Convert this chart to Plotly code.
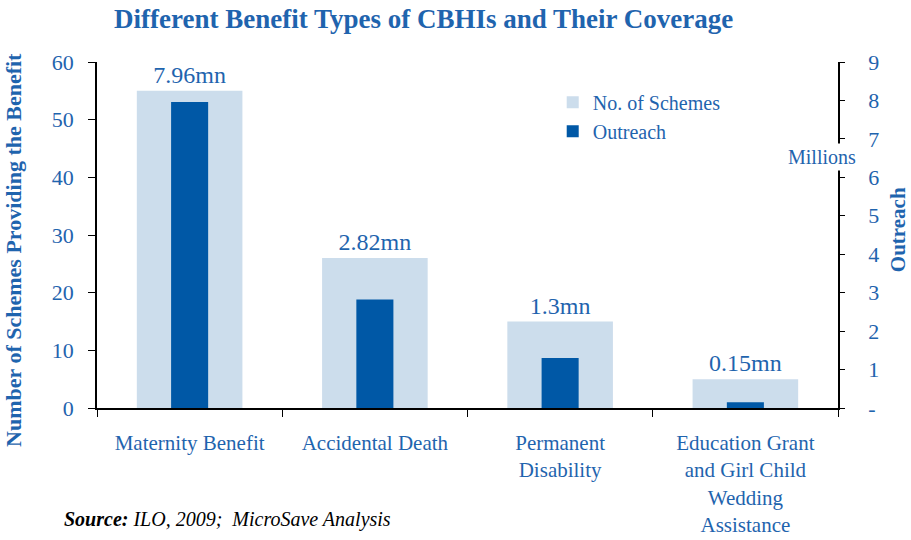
import plotly.graph_objects as go

# data
categories = ["Maternity Benefit", "Accidental Death", "Permanent<br>Disability",
              "Education Grant<br>and Girl Child<br>Wedding<br>Assistance"]
num_schemes = [55, 26, 15, 5]
outreach_mn = [7.96, 2.82, 1.3, 0.15]
right_ticks = [0, 1, 2, 3, 4, 5, 6, 7, 8, 9]
right_ticktext = ["-", "1", "2", "3", "4", "5", "6", "7", "8", "9"]

BLUE = "#1F64AE"
LIGHT = "#CCDDEC"
DARK = "#0058A6"
FONT = "Liberation Serif"

labels = [f"{v}mn" for v in outreach_mn]

fig = go.Figure()
fig.add_trace(go.Bar(
    x=categories, y=num_schemes, name="No. of Schemes",
    marker=dict(color=LIGHT, line=dict(width=0)), width=0.57,
    text=labels, textposition="outside", cliponaxis=False,
    textfont=dict(family=FONT, size=24, color=BLUE),
))
fig.add_trace(go.Bar(
    x=categories, y=outreach_mn, name="Outreach", yaxis="y2",
    marker=dict(color=DARK, line=dict(width=0)), width=0.2,
))

fig.update_layout(
    width=911, height=540,
    margin=dict(l=97, r=73, t=62, b=132, autoexpand=False),
    paper_bgcolor="white", plot_bgcolor="white",
    barmode="overlay",
    font=dict(family=FONT, size=22, color=BLUE),
    showlegend=True,
    legend=dict(x=0.615, y=0.94, xanchor="left", yanchor="top",
                bgcolor="rgba(0,0,0,0)", font=dict(family=FONT, size=20, color=BLUE),
                tracegroupgap=4),
    xaxis=dict(type="category", showline=True, linecolor="black", linewidth=1.5,
               ticks="outside", tickson="boundaries", ticklen=7, tickcolor="black",
               ticklabelstandoff=15, automargin=False,
               tickfont=dict(family=FONT, size=21, color=BLUE), showgrid=False, zeroline=False),
    yaxis=dict(range=[0, 60], dtick=10, showline=True, linecolor="black", linewidth=1.5,
               ticks="outside", ticklen=7, tickcolor="black", showgrid=False,
               ticklabelstandoff=10, automargin=False,
               zeroline=False, tickfont=dict(family=FONT, size=22, color=BLUE)),
    yaxis2=dict(range=[0, 9], overlaying="y", side="right", tickvals=right_ticks,
                ticktext=right_ticktext, showline=True, linecolor="black", linewidth=1.5,
                ticks="outside", ticklen=5, tickcolor="black", showgrid=False,
                ticklabelstandoff=19, automargin=False,
                zeroline=False, tickfont=dict(family=FONT, size=22, color=BLUE)),
    annotations=[
        dict(text="<b>Different Benefit Types of CBHIs and Their Coverage</b>",
             xref="paper", yref="paper", x=0.441, y=1.0, yshift=43,
             xanchor="center", yanchor="middle", showarrow=False,
             font=dict(family=FONT, size=27, color=BLUE)),
        dict(text="<b>Number of Schemes Providing the Benefit</b>", textangle=-90,
             xref="paper", yref="paper", x=0, xshift=-83, y=0.457,
             xanchor="center", yanchor="middle", showarrow=False,
             font=dict(family=FONT, size=22, color=BLUE)),
        dict(text="<b>Outreach</b>", textangle=-90,
             xref="paper", yref="paper", x=1, xshift=60, y=0.514,
             xanchor="center", yanchor="middle", showarrow=False,
             font=dict(family=FONT, size=21, color=BLUE)),
        dict(text="Millions", xref="paper", yref="y2", x=1, xshift=-16,
             xanchor="center", yanchor="middle",
             y=6.53, showarrow=False, bgcolor="white", borderpad=2,
             font=dict(family=FONT, size=20, color=BLUE)),
        dict(text="<b><i>Source:</i></b><i> ILO, 2009;  MicroSave Analysis</i>",
             xref="paper", yref="paper", x=0, xshift=-35, xanchor="left",
             y=0, yshift=-111, yanchor="middle", showarrow=False,
             font=dict(family=FONT, size=20, color="black")),
    ],
)

# drop the default 8px page margin so the 911x540 figure fills the window
fig.write_html("out.html", config={"displayModeBar": False},
               post_script="document.body.style.margin='0';document.body.style.overflow='hidden';")
